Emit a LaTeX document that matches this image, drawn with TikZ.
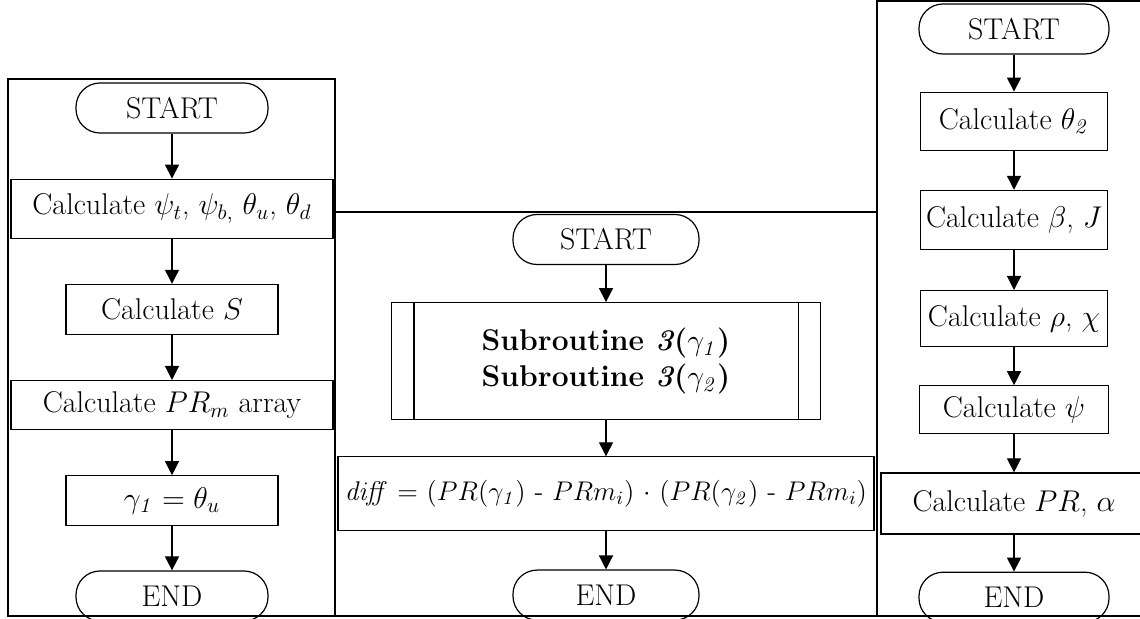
\RequirePackage{fix-cm}
\documentclass[tikz,border=0pt]{standalone}
\usepackage{amsmath}
\usetikzlibrary{arrows.meta, positioning}
\tikzstyle{terminal} = [rectangle, rounded corners=12pt, draw, line width=0.6pt, text centered, minimum width=96pt, minimum height=25pt]
\tikzstyle{process} = [rectangle, draw, line width=0.6pt, text centered, minimum height=25pt, inner xsep=1.5pt]
\tikzstyle{arrow} = [line width=0.6pt,->,>={Triangle[width=7pt,length=7pt]}]
\tikzstyle{frame} = [line width=1.3pt]

\begin{document}
\begin{tikzpicture}[x=0.5pt, y=-0.5pt, font=\fontsize{15}{18}\selectfont]
        \clip (0,0) rectangle (1140,619);
        % panels
        \draw[frame] (8,79) rectangle (335,616);
        \draw[frame] (335,212) -- (877,212);
        \draw[frame] (1150,1) -- (877,1) -- (877,616);
        \draw[frame] (8,616) -- (1150,616);

        % left chart
        \node[terminal] (startA) at (172,108) {START};
        \node[process, below=22.5pt of startA, minimum width=161pt, minimum height=29.5pt] (angles) {Calculate $\psi_t$, $\psi_{b,}$ $\theta_u$, $\theta_d$};
        \node[process, below=22.5pt of angles, minimum width=106pt] (calcS) {Calculate $S$};
        \node[process, below=22.5pt of calcS, minimum width=161pt, minimum height=24.5pt] (prm) {Calculate $PR_m$ array};
        \node[process, below=22.5pt of prm, minimum width=106pt] (gamma) {$\gamma_{\mathit{1}} = \theta_u$};
        \node[terminal, below=22pt of gamma] (endA) {END};

        % middle chart
        \node[terminal, minimum width=93pt] (startB) at (606,239.5) {START};
        \node[process, below=18.5pt of startB, minimum width=214.5pt, minimum height=58.5pt, align=center, font=\fontsize{15}{18}\selectfont\bfseries] (sub) {Subroutine \textit{3}($\gamma_{\mathit{1}}$)\\Subroutine \textit{3}($\gamma_{\mathit{2}}$)};
        \draw[line width=0.6pt] ([xshift=11.5pt]sub.north west) -- ([xshift=11.5pt]sub.south west);
        \draw[line width=0.6pt] ([xshift=-11.5pt]sub.north east) -- ([xshift=-11.5pt]sub.south east);
        \node[process, below=18pt of sub, minimum width=268pt, minimum height=37pt, font=\fontsize{13.5}{16}\selectfont] (diff) {$\mathit{diff}$ = ($PR$($\gamma_{\mathit{1}}$) - $PRm_i$) $\cdot$ ($PR$($\gamma_{\mathit{2}}$) - $PRm_i$)};
        \node[terminal, below=19pt of diff, minimum width=93pt] (endB) {END};

        % right chart
        \node[terminal, minimum width=95pt] (startC) at (1014,29) {START};
        \node[process, below=18.5pt of startC, minimum width=93.5pt, minimum height=29pt] (theta) {Calculate $\theta_{\mathit{2}}$};
        \node[process, below=19.5pt of theta, minimum width=93.5pt, minimum height=29.5pt] (betaJ) {Calculate $\beta$, $J$};
        \node[process, below=20pt of betaJ, minimum width=93.5pt, minimum height=28pt] (rhochi) {Calculate $\rho$, $\chi$};
        \node[process, below=19pt of rhochi, minimum width=94.5pt, minimum height=24pt] (psi) {Calculate $\psi$};
        \node[process, below=19pt of psi, minimum width=133pt, minimum height=30.5pt] (pralpha) {Calculate $PR$, $\alpha$};
        \node[terminal, below=18.5pt of pralpha, minimum width=95pt] (endC) {END};

        \draw[arrow] (startA) -- (angles);
        \draw[arrow] (angles) -- (calcS);
        \draw[arrow] (calcS) -- (prm);
        \draw[arrow] (prm) -- (gamma);
        \draw[arrow] (gamma) -- (endA);

        \draw[arrow] (startB) -- (sub);
        \draw[arrow] (sub) -- (diff);
        \draw[arrow] (diff) -- (endB);

        \draw[arrow] (startC) -- (theta);
        \draw[arrow] (theta) -- (betaJ);
        \draw[arrow] (betaJ) -- (rhochi);
        \draw[arrow] (rhochi) -- (psi);
        \draw[arrow] (psi) -- (pralpha);
        \draw[arrow] (pralpha) -- (endC);
    \end{tikzpicture}
\end{document}
